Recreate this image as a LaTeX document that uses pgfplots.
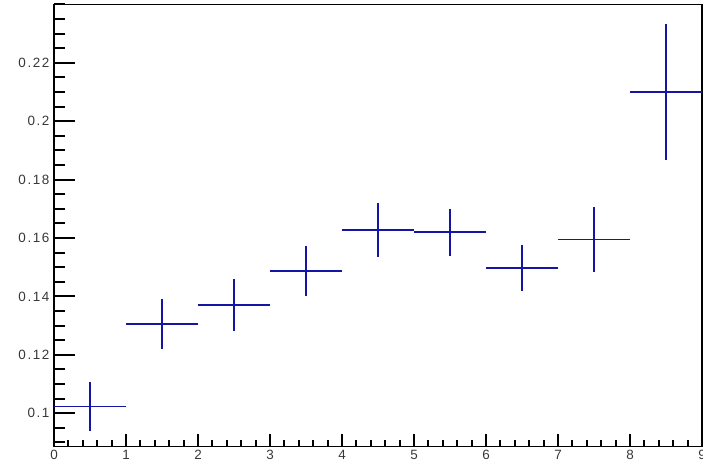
\documentclass[border=0pt]{standalone}
\usepackage{pgfplots}
\pgfplotsset{compat=1.18}
\usepackage{fontspec}
\setmainfont{Liberation Sans}[LetterSpace=12]
\definecolor{histblue}{RGB}{20,20,165}

\pgfplotstableread{
x    y       ex   ey
0.5  0.1023  0.5  0.0083
1.5  0.1305  0.5  0.0086
2.5  0.1371  0.5  0.0089
3.5  0.1487  0.5  0.0086
4.5  0.1628  0.5  0.0093
5.5  0.1620  0.5  0.0081
6.5  0.1497  0.5  0.0078
7.5  0.1595  0.5  0.0111
8.5  0.2100  0.5  0.0232
}\histdata

\begin{document}
\begin{tikzpicture}
\useasboundingbox (-54bp,-19.5bp) rectangle (649bp,446.5bp);
\begin{axis}[
  at={(0,0)}, anchor=south west,
  scale only axis,
  width=648bp, height=442bp,
  xmin=0, xmax=9,
  ymin=0.0886, ymax=0.2400,
  axis line style={line width=1.6bp, black},
  tick pos=left,
  tick align=inside,
  xtick={0,1,...,9},
  minor xtick={0,0.2,...,9},
  ytick={0.1,0.12,0.14,0.16,0.18,0.2,0.22},
  yticklabels={0.1,0.12,0.14,0.16,0.18,0.2,0.22},
  minor ytick={0.09,0.095,...,0.2401},
  tick style={line width=2bp, black},
  major tick style={line width=2bp, black},
  minor tick style={line width=2bp, black},
  xtick style={/pgfplots/major tick length=12bp, /pgfplots/minor tick length=6.5bp},
  ytick style={/pgfplots/major tick length=20.5bp, /pgfplots/minor tick length=11bp},
  every tick label/.append style={font=\fontsize{13.5}{15}\selectfont, text=black!78},
  /pgf/number format/assume math mode=true,
  xticklabel style={yshift=-0.5bp},
  yticklabel style={xshift=-1bp},
  clip=false,
]
\addplot[
  draw=none, mark=none,
  error bars/.cd,
    x dir=both, x explicit,
    y dir=both, y explicit,
    error mark=none,
    error bar style={line width=1.8bp, histblue},
] table[x=x, y=y, x error=ex, y error=ey] {\histdata};
\end{axis}
\end{tikzpicture}
\end{document}
